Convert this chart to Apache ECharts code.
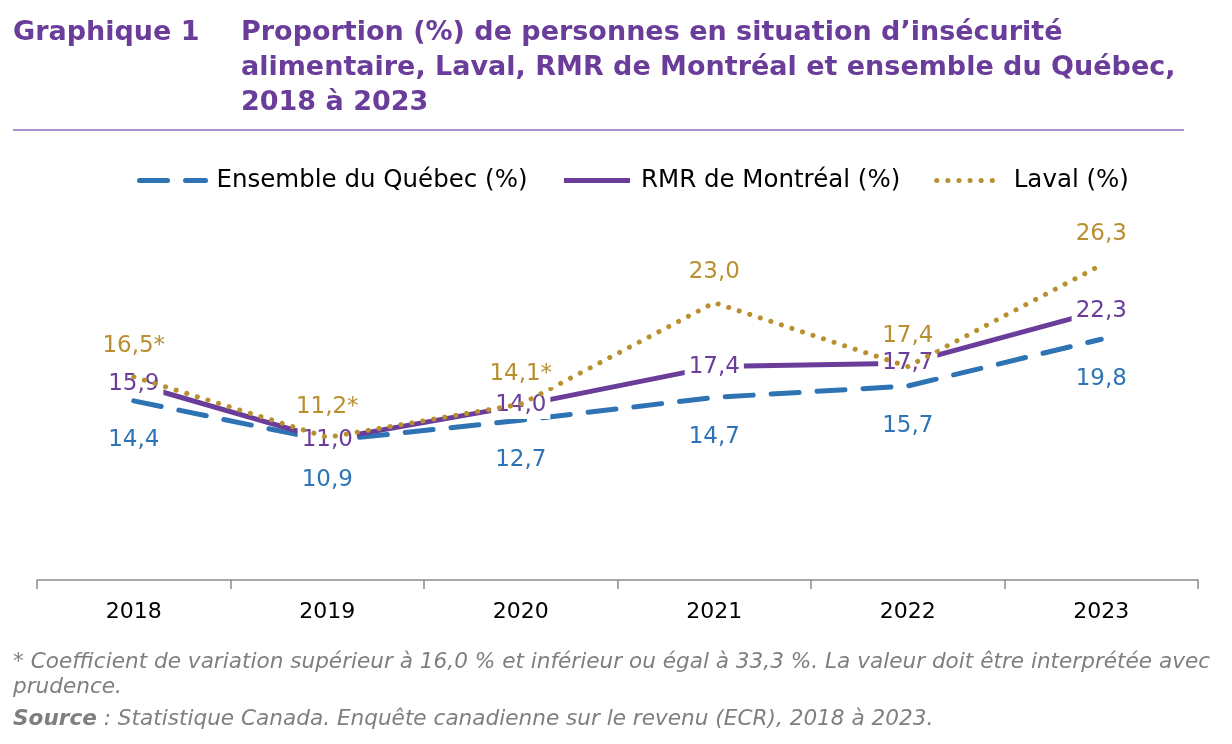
<!DOCTYPE html>
<html>
<head>
    <meta charset="utf-8">
    <title>Graphique 1</title>
    <script src="https://cdn.jsdelivr.net/npm/echarts@6/dist/echarts.min.js"></script>
    <style>
        html, body { margin: 0; padding: 0; background: #fff; }
        #main { width: 1232px; height: 744px; }
    </style>
</head>
<body>
    <div id="main"></div>
    <script type="text/javascript">
        var years = ['2018', '2019', '2020', '2021', '2022', '2023'];
        var quebec = [14.4, 10.9, 12.7, 14.7, 15.7, 19.8];
        var montreal = [15.9, 11.0, 14.0, 17.4, 17.7, 22.3];
        var laval = [16.5, 11.2, 14.1, 23.0, 17.4, 26.3];
        // valeurs à interpréter avec prudence
        var lavalFlag = ['*', '*', '*', '', '', ''];

        var font = '"DejaVu Sans", Verdana, sans-serif';
        var cBlue = '#2e74b5', cPurple = '#6a3d9a', cGold = '#b8902f';

        function fmt(v) {
            return v.toFixed(1).replace('.', ',');
        }

        function labelStyle(color, extra) {
            var l = {
                show: true,
                color: color,
                fontFamily: font,
                fontSize: 23,
                backgroundColor: '#fff',
                padding: [2, 4]
            };
            for (var k in extra) l[k] = extra[k];
            return l;
        }

        var myChart = echarts.init(document.getElementById('main'));
        var option = {
            animation: false,
            title: [{
                text: 'Graphique 1',
                left: 13, top: 15, padding: 0,
                textStyle: { fontFamily: font, fontSize: 27, fontWeight: 'bold', color: cPurple, lineHeight: 35 }
            }, {
                text: 'Proportion (%) de personnes en situation d\u2019insécurité\nalimentaire, Laval, RMR de Montréal et ensemble du Québec,\n2018 à 2023',
                left: 241, top: 15, padding: 0,
                textStyle: { fontFamily: font, fontSize: 27, fontWeight: 'bold', color: cPurple, lineHeight: 35 }
            }],
            graphic: [{
                type: 'line',
                shape: { x1: 13, y1: 130, x2: 1184, y2: 130 },
                style: { stroke: '#8e6bb8', lineWidth: 1.5 }
            }, {
                type: 'text',
                left: 13, top: 650,
                style: {
                    text: '* Coefficient de variation supérieur à 16,0 % et inférieur ou égal à 33,3 %. La valeur doit être interprétée avec\nprudence.',
                    fontFamily: font, fontSize: 21.6, fontStyle: 'italic', fill: '#7f7f7f', lineHeight: 25
                }
            }, {
                type: 'text',
                left: 13, top: 708,
                style: {
                    text: '{b|Source} : Statistique Canada. Enquête canadienne sur le revenu (ECR), 2018 à 2023.',
                    fontFamily: font, fontSize: 21.6, fontStyle: 'italic', fill: '#7f7f7f',
                    rich: { b: { fontFamily: font, fontSize: 21.6, fontStyle: 'italic', fontWeight: 'bold', fill: '#7f7f7f' } }
                }
            }],
            legend: {
                top: 163,
                left: 132,
                itemWidth: 66,
                itemHeight: 10,
                itemGap: 34,
                lineStyle: { width: 5 },
                itemStyle: { opacity: 0 },
                textStyle: { fontFamily: font, fontSize: 24.5, color: '#000', padding: [0, 0, 0, 6] },
                data: ['Ensemble du Québec (%)', 'RMR de Montréal (%)', 'Laval (%)']
            },
            grid: { left: 37, right: 34, top: 200, bottom: 164 },
            xAxis: {
                type: 'category',
                data: years,
                boundaryGap: true,
                axisLine: { onZero: false, lineStyle: { color: '#8c8c8c', width: 1.5 } },
                axisTick: { show: true, length: 9, lineStyle: { color: '#8c8c8c', width: 1.5 } },
                axisLabel: { fontFamily: font, fontSize: 22, color: '#000', margin: 21 }
            },
            yAxis: {
                type: 'value',
                min: -1.3,
                max: 32,
                show: false,
                splitLine: { show: false }
            },
            series: [{
                name: 'Ensemble du Québec (%)',
                type: 'line',
                data: quebec,
                symbol: 'circle',
                symbolSize: 0.1,
                z: 2,
                lineStyle: { color: cBlue, width: 5, type: [28, 18], cap: 'round' },
                itemStyle: { color: cBlue },
                label: labelStyle(cBlue, {
                    position: 'bottom', distance: 26,
                    formatter: function (p) { return fmt(p.value); }
                })
            }, {
                name: 'RMR de Montréal (%)',
                type: 'line',
                data: montreal,
                symbol: 'circle',
                symbolSize: 0.1,
                z: 3,
                lineStyle: { color: cPurple, width: 5 },
                itemStyle: { color: cPurple },
                label: labelStyle(cPurple, {
                    position: 'inside',
                    formatter: function (p) { return fmt(p.value); }
                })
            }, {
                name: 'Laval (%)',
                type: 'line',
                data: laval,
                symbol: 'circle',
                symbolSize: 0.1,
                z: 4,
                lineStyle: { color: cGold, width: 5, type: [0.1, 11], cap: 'round' },
                itemStyle: { color: cGold },
                label: labelStyle(cGold, {
                    position: 'top', distance: 17,
                    formatter: function (p) { return fmt(p.value) + lavalFlag[p.dataIndex]; }
                })
            }]
        };
        myChart.setOption(option);
    </script>
</body>
</html>
